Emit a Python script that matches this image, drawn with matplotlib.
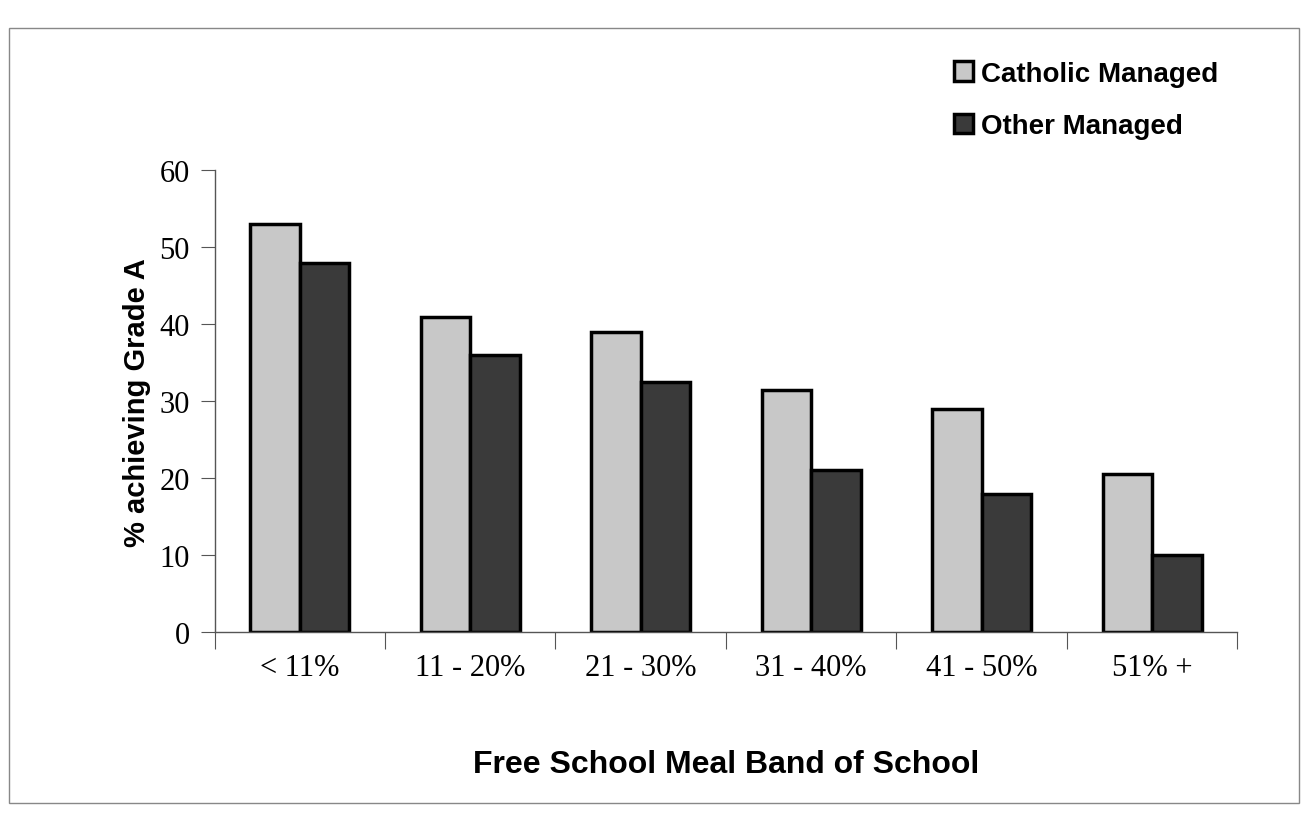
import numpy as np
import matplotlib.pyplot as plt
from matplotlib.patches import Rectangle

bands = ['< 11%', '11 - 20%', '21 - 30%', '31 - 40%', '41 - 50%', '51% +']
catholic = [53, 41, 39, 31.5, 29, 20.5]
other = [48, 36, 32.5, 21, 18, 10]

fig = plt.figure(figsize=(13.08, 8.2), dpi=100)
ax = fig.add_axes([0.164, 0.228, 0.782, 0.563])

x = np.arange(len(bands))
w = 0.29
ax.bar(x - w/2, catholic, w, color='#c8c8c8', edgecolor='black', linewidth=2.5,
       label='Catholic Managed')
ax.bar(x + w/2, other, w, color='#3a3a3a', edgecolor='black', linewidth=2.5,
       label='Other Managed')

ax.set_xlim(-0.5, len(bands) - 0.5)
ax.set_ylim(0, 60)
ax.set_yticks(range(0, 61, 10))

# ticks between categories, labels at the centres
ax.set_xticks(np.arange(-0.5, len(bands), 1))
ax.set_xticklabels([])
ax.set_xticks(x, minor=True)
ax.set_xticklabels(bands, minor=True, fontsize=22, family='Liberation Serif')
ax.tick_params(axis='x', which='minor', length=0, pad=15)
ax.tick_params(axis='x', which='major', length=12, direction='out', color='#555555')
ax.tick_params(axis='y', length=10, direction='out', color='#555555', pad=8)
for t in ax.get_yticklabels():
    t.set_fontsize(22)
    t.set_family('Liberation Serif')

for s in ['top', 'right']:
    ax.spines[s].set_visible(False)
for s in ['left', 'bottom']:
    ax.spines[s].set_color('#555555')
    ax.spines[s].set_linewidth(1)

ax.set_ylabel('% achieving Grade A', fontsize=21, fontweight='bold',
              family='Liberation Sans', labelpad=6)
ax.set_xlabel('Free School Meal Band of School', fontsize=23, fontweight='bold',
              family='Liberation Sans', labelpad=48)

leg = fig.legend(loc='upper left', bbox_to_anchor=(0.71, 0.955), frameon=False,
                 prop={'family': 'Liberation Sans', 'weight': 'bold', 'size': 20},
                 handlelength=0.7, handleheight=0.7, handletextpad=0.3,
                 labelspacing=0.95)

# chart area border
fig.patches.append(Rectangle((0.007, 0.02), 0.986, 0.945, transform=fig.transFigure,
                             fill=False, edgecolor='#888888', linewidth=1))

plt.savefig('out.png', dpi=100)
